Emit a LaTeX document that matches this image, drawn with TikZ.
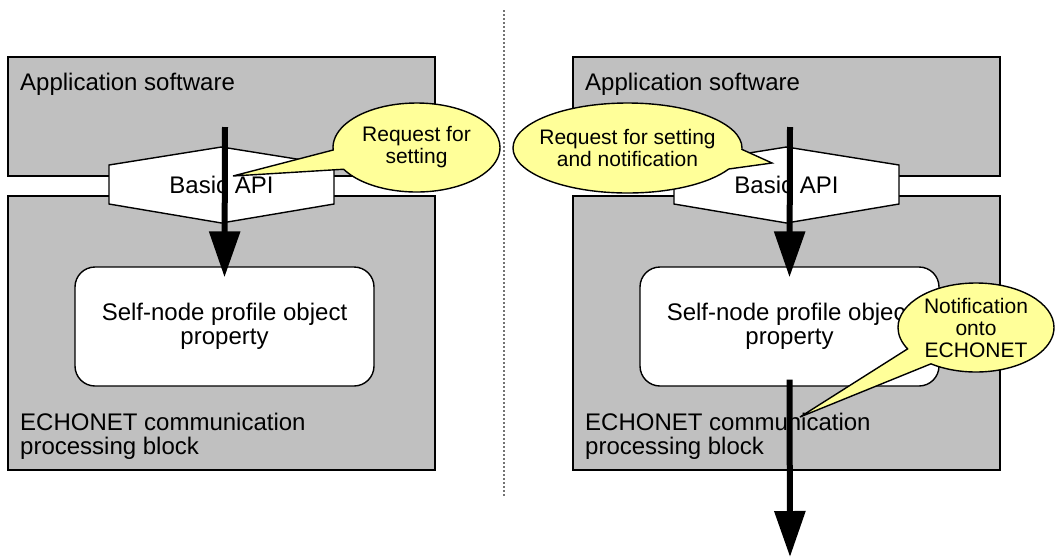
\documentclass[tikz,border=0pt]{standalone}
\usepackage{fontspec}
\setmainfont{Liberation Sans}
\usetikzlibrary{arrows.meta,shapes.callouts,calc}
\definecolor{blockgray}{RGB}{192,192,192}
\definecolor{noteyellow}{RGB}{255,255,153}
\tikzset{>=latex,
        block/.style={draw=black, line width=1.4pt, fill=blockgray, minimum width=427pt, inner sep=0pt},
        blocklabel/.style={inner sep=0pt, align=left, font=\fontsize{24}{24}\selectfont},
        hexa/.style={draw=black, line width=1.4pt, fill=white},
        apitext/.style={inner sep=0pt, font=\fontsize{24}{24}\selectfont},
        objbox/.style={draw=black, line width=1.4pt, fill=white, rounded corners=20pt, minimum width=299pt, minimum height=119pt, align=center, font=\fontsize{24}{24.5}\selectfont},
        note/.style={ellipse callout, draw=black, line width=1.4pt, fill=noteyellow, callout pointer arc=26, inner sep=0pt, align=center, font=\fontsize{21}{22}\selectfont},
        flow/.style={line width=6pt, -{Triangle[length=46pt, width=30pt]}},
        sepline/.style={draw=black!55, line width=1.2pt, dash pattern=on 1.5pt off 2.5pt}}

\begin{document}
\begin{tikzpicture}[x=1pt, y=-1pt]
        \useasboundingbox (0,0) rectangle (1055,558);

        % left: request for setting
        \node[block, minimum height=119pt] (app1) at (221.5,116.5) {};
        \node[blocklabel, anchor=base west] (applabel1) at (20,90) {Application software};
        \node[block, minimum height=274pt] (echo1) at (221.5,333) {};
        \node[blocklabel, anchor=north west] (echolabel1) at (20,413) {ECHONET communication\\processing block};
        \coordinate (api1) at (221.5,184.5);
        \draw[hexa] ($(api1)+(-112.5,-19.5)$) -- ($(api1)+(0,-37.5)$) -- ($(api1)+(112.5,-19.5)$) -- ($(api1)+(112.5,19.5)$) -- ($(api1)+(0,38.5)$) -- ($(api1)+(-112.5,19.5)$) -- cycle;
        \node[apitext] (apilabel1) at (api1) {Basic API};
        \node[objbox] (obj1) at (224.5,326.5) {Self-node profile object\\property};
        \coordinate (in1) at (225,127);
        \draw[flow] (in1) -- ([yshift=-11pt]obj1.north);
        \coordinate (tip1) at (233,176);
        \node[note, minimum width=167pt, minimum height=89pt, callout absolute pointer={(tip1)}] (req1) at (416.5,147.5) {Request for\\setting};

        \coordinate (septop) at (504,10);
        \coordinate (sepbot) at (504,498);
        \draw[sepline] (septop) -- (sepbot);

        % right: request for setting and notification
        \node[block, minimum height=119pt] (app2) at (786.5,116.5) {};
        \node[blocklabel, anchor=base west] (applabel2) at (585,90) {Application software};
        \node[block, minimum height=274pt] (echo2) at (786.5,333) {};
        \node[blocklabel, anchor=north west] (echolabel2) at (585,413) {ECHONET communication\\processing block};
        \coordinate (api2) at (786.5,184.5);
        \draw[hexa] ($(api2)+(-112.5,-19.5)$) -- ($(api2)+(0,-37.5)$) -- ($(api2)+(112.5,-19.5)$) -- ($(api2)+(112.5,19.5)$) -- ($(api2)+(0,38.5)$) -- ($(api2)+(-112.5,19.5)$) -- cycle;
        \node[apitext] (apilabel2) at (api2) {Basic API};
        \node[objbox] (obj2) at (789.5,326.5) {Self-node profile object\\property};
        \coordinate (in2) at (790,127);
        \draw[flow] (in2) -- ([yshift=-11pt]obj2.north);
        \coordinate (net2) at (790,557);
        \draw[flow] ([yshift=7pt]obj2.south) -- (net2);
        \coordinate (tip2) at (772,163);
        \node[note, inner xsep=-12pt, minimum width=229pt, minimum height=90pt, callout absolute pointer={(tip2)}] (req2) at (627.5,148) {Request for setting\\and notification};
        \coordinate (tip3) at (800,417);
        \node[note, minimum width=156pt, minimum height=89pt, callout absolute pointer={(tip3)}] (ntf2) at (976,327.5) {Notification\\onto\\ECHONET};
\end{tikzpicture}
\end{document}
